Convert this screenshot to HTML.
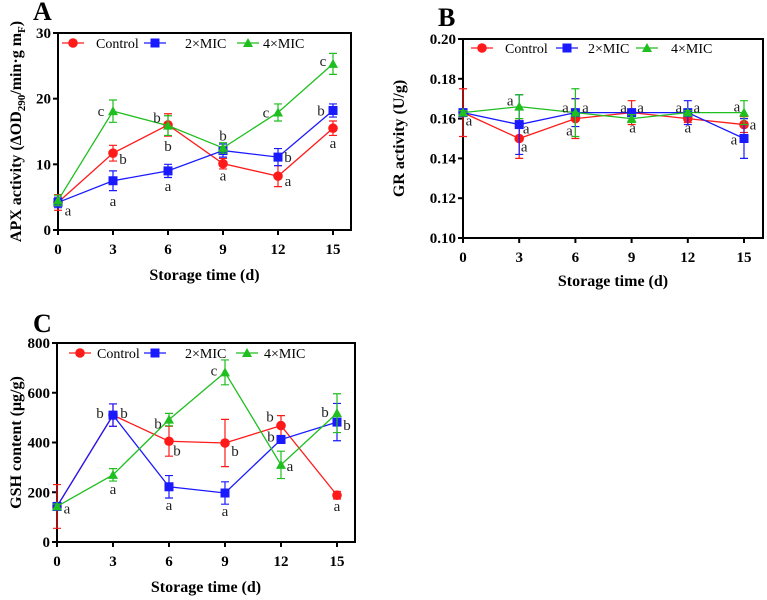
<!DOCTYPE html>
<html><head><meta charset="utf-8"><style>
html,body{margin:0;padding:0;background:#fff;}
svg{display:block;font-family:"Liberation Serif",serif;}
</style></head><body>
<svg id="fig" width="767" height="600" viewBox="0 0 767 600" xmlns="http://www.w3.org/2000/svg"></svg>
<script>
const days = [0,3,6,9,12,15];
const seriesNames = ["Control","2×MIC","4×MIC"];
const colors = ["#ff1a1a","#1a1aff","#1fbf1f"];
// Panel A: APX
const apxControl = [4.2,11.7,16.0,10.1,8.2,15.5];
const apxControlErr = [1.2,1.2,1.7,0.8,1.6,1.1];
const apx2MIC = [4.2,7.5,9.0,12.1,11.1,18.2];
const apx2MICErr = [0.8,1.5,1.0,1.0,1.3,1.0];
const apx4MIC = [4.5,18.1,15.9,12.5,17.9,25.3];
const apx4MICErr = [0.8,1.7,1.5,0.8,1.3,1.6];
const apxTicks = [0,10,20,30];
// Panel B: GR
const grControl = [0.163,0.150,0.160,0.163,0.160,0.157];
const grControlErr = [0.012,0.010,0.010,0.006,0.002,0.004];
const gr2MIC = [0.163,0.157,0.163,0.163,0.163,0.150];
const gr2MICErr = [0.001,0.015,0.007,0.001,0.006,0.010];
const gr4MIC = [0.163,0.166,0.163,0.160,0.163,0.163];
const gr4MICErr = [0.001,0.006,0.012,0.002,0.001,0.006];
const grTicks = ["0.10","0.12","0.14","0.16","0.18","0.20"];
// Panel C: GSH
const gshControl = [143,510,405,398,468,188];
const gshControlErr = [88,45,60,95,40,15];
const gsh2MIC = [143,510,222,197,412,482];
const gsh2MICErr = [10,45,45,45,15,75];
const gsh4MIC = [143,270,492,682,310,518];
const gsh4MICErr = [10,25,25,50,55,78];
const gshTicks = [0,200,400,600,800];
// letters: [series, dayIndex, letter, dx, dy]
const apxLetters = [[0,0,"a",10,8],[0,1,"b",10,6],[0,2,"b",0,21],[0,3,"a",0,12],[0,4,"a",10,5],[0,5,"a",0,15],
 [1,1,"a",0,20],[1,2,"a",0,15],[1,3,"b",0,-15],[1,4,"b",10,0],[1,5,"b",-12,0],
 [2,1,"c",-12,0],[2,2,"b",-11,-8],[2,4,"c",-12,0],[2,5,"c",-10,-3]];
const grLetters = [[0,0,"a",6,8],[2,1,"a",-9,-6],[0,1,"a",5,8],[1,1,"a",7,4],
 [2,2,"a",-10,-5],[2,2,"a",10,-5],[0,2,"a",-6,12],
 [1,3,"a",-8,-5],[1,3,"a",9,-5],[2,3,"a",1,9],
 [1,4,"a",-9,-5],[1,4,"a",9,-5],[0,4,"a",0,9],
 [2,5,"a",-7,-6],[0,5,"a",9,0],[1,5,"a",-10,1]];
const gshLetters = [[0,0,"a",10,2],[0,1,"b",-13,-2],[1,1,"b",11,-2],[2,1,"a",0,14],
 [2,2,"b",-11,4],[0,2,"b",8,9],[1,2,"a",0,18],
 [2,3,"c",-11,-2],[0,3,"b",10,8],[1,3,"a",0,18],
 [0,4,"b",-11,-9],[1,4,"b",-10,-3],[2,4,"a",9,1],
 [2,5,"b",-12,-1],[1,5,"b",10,3],[0,5,"a",0,11]];

const NS="http://www.w3.org/2000/svg";
const svg=document.getElementById('fig');
function mk(tag,attrs,parent){const e=document.createElementNS(NS,tag);for(const k in attrs)e.setAttribute(k,attrs[k]);(parent||svg).appendChild(e);return e;}

function marker(g,kind,x,y,c){
  if(kind===0) return mk('circle',{cx:x,cy:y,r:4.8,fill:c},g);
  if(kind===1) return mk('rect',{x:x-4.5,y:y-4.5,width:9,height:9,fill:c},g);
  return mk('polygon',{points:`${x},${y-5} ${x-5},${y+4} ${x+5},${y+4}`,fill:c},g);
}

function panel(cfg){
  const g=mk('g',{});
  
  
  const xS=d=>cfg.x0+(d-days[0])/(days[days.length-1]-days[0])*(cfg.x15-cfg.x0);
  const yS=v=>cfg.yb+(v-cfg.ymin)/(cfg.ymax-cfg.ymin)*(cfg.yt-cfg.yb);
  const box=mk('rect',{x:cfg.left,y:cfg.yt,width:cfg.right-cfg.left,height:cfg.yb-cfg.yt,fill:'none',stroke:'#000','stroke-width':2},g);
  
  cfg.ticks.forEach(t=>{const v=parseFloat(t);const y=yS(v);
    mk('line',{x1:cfg.left-5,x2:cfg.left,y1:y,y2:y,stroke:'#000','stroke-width':2},g);
    const tx=mk('text',{x:cfg.left-7,y:y+5,'text-anchor':'end','font-size':15,'font-weight':'bold'},g);
    tx.textContent=t;
    });
  days.forEach(d=>{const x=xS(d);
    mk('line',{x1:x,x2:x,y1:cfg.yb,y2:cfg.yb+5,stroke:'#000','stroke-width':2},g);
    const tx=mk('text',{x:x,y:cfg.yb+24,'text-anchor':'middle','font-size':15,'font-weight':'bold'},g);
    tx.textContent=d;
    });
  const xt=mk('text',{x:(cfg.left+cfg.right)/2,y:cfg.xtitleY,'text-anchor':'middle','font-size':16,'font-weight':'bold'},g);
  xt.textContent='Storage time (d)';
  
  const yt=mk('text',{x:0,y:0,'text-anchor':'middle','font-size':16,'font-weight':'bold',transform:`translate(${cfg.ytitleX},${(cfg.yt+cfg.yb)/2}) rotate(-90)`},g);
  yt.innerHTML=cfg.ytitle;
  
  const pl=mk('text',{x:cfg.letterX,y:cfg.letterY,'font-size':26,'font-weight':'bold'},g);
  pl.textContent=cfg.letter;
  
  cfg.series.forEach((s,si)=>{
    const sg=mk('g',{},g);
    
    
    const c=colors[si];
    const pts=s.vals.map((v,i)=>xS(days[i])+','+yS(v)).join(' ');
    mk('polyline',{points:pts,fill:'none',stroke:c,'stroke-width':1.3},sg);
    s.vals.forEach((v,i)=>{const x=xS(days[i]),e=s.err[i];
      const y1=yS(v+e),y2=yS(v-e);
      const eb=mk('path',{d:`M${x},${y1}V${y2}M${x-4},${y1}H${x+4}M${x-4},${y2}H${x+4}`,stroke:c,'stroke-width':1.2,fill:'none'},sg);
      
      const m=marker(sg,si,x,yS(v),c);
      
    });
  });
  cfg.letters.forEach(L=>{const s=cfg.series[L[0]];
    const x=xS(days[L[1]])+L[3],y=yS(s.vals[L[1]])+L[4];
    const t=mk('text',{x:x,y:y+5,'text-anchor':'middle','font-size':15,fill:'#222'},g);
    t.textContent=L[2];
    });
  const lg=mk('g',{},g);
  
  cfg.legend.forEach((L,si)=>{const y=cfg.legendY;
    const e=mk('g',{},lg);
    
    mk('line',{x1:L[0]-11,x2:L[0]+11,y1:y,y2:y,stroke:colors[si],'stroke-width':1.3},e);
    marker(e,si,L[0],y,colors[si]);
    const t=mk('text',{x:L[1],y:y+5,'font-size':14},e);t.textContent=seriesNames[si];});
}

panel({name:'panel-a-apx',left:58,right:351,x0:58,x15:333,yt:33,yb:230,ymin:0,ymax:30,ticks:apxTicks.map(String),
  xtitleY:280,ytitleX:21,ytitle:'APX activity (ΔOD<tspan font-size="11" dy="4">290</tspan><tspan dy="-4">/min·g m</tspan><tspan font-size="11" dy="4">F</tspan><tspan dy="-4">)</tspan>',
  letter:'A',letterX:33,letterY:20,legendY:43,legend:[[73,96],[155,185],[248,263]],
  series:[{vals:apxControl,err:apxControlErr},{vals:apx2MIC,err:apx2MICErr},{vals:apx4MIC,err:apx4MICErr}],letters:apxLetters});
panel({name:'panel-b-gr',left:463,right:763,x0:463,x15:744,yt:39,yb:238,ymin:0.10,ymax:0.20,ticks:grTicks,
  xtitleY:286,ytitleX:404,ytitle:'GR activity (U/g)',
  letter:'B',letterX:438,letterY:26,legendY:48,legend:[[482,505],[567,588],[647,671]],
  series:[{vals:grControl,err:grControlErr},{vals:gr2MIC,err:gr2MICErr},{vals:gr4MIC,err:gr4MICErr}],letters:grLetters});
panel({name:'panel-c-gsh',left:57,right:355,x0:57,x15:337,yt:343,yb:542,ymin:0,ymax:800,ticks:gshTicks.map(String),
  xtitleY:592,ytitleX:21,ytitle:'GSH content (μg/g)',
  letter:'C',letterX:33,letterY:332,legendY:353,legend:[[80,97],[155,185],[247,264]],
  series:[{vals:gshControl,err:gshControlErr},{vals:gsh2MIC,err:gsh2MICErr},{vals:gsh4MIC,err:gsh4MICErr}],letters:gshLetters});
</script>
</body></html>
